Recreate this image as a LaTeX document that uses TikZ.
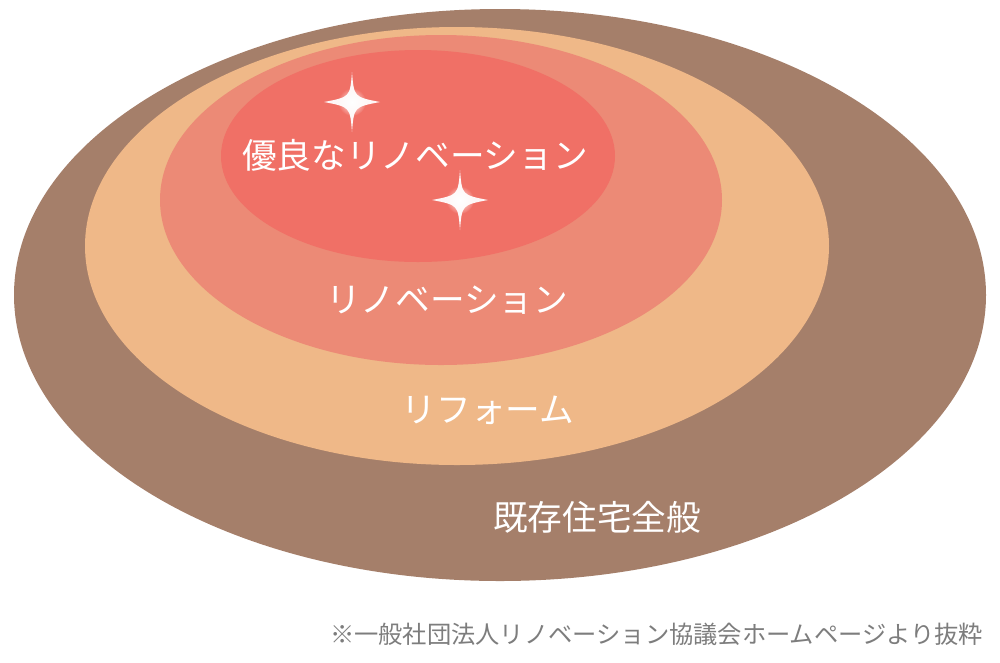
\documentclass[tikz,border=0pt]{standalone}
\usepackage{fontspec}
\newfontfamily\jpfont{Noto Sans CJK JP}
\definecolor{kizon}{RGB}{165,127,106}
\definecolor{reform}{RGB}{239,184,136}
\definecolor{renov}{RGB}{236,138,118}
\definecolor{yuryo}{RGB}{240,112,102}
\definecolor{chu}{RGB}{125,125,125}
\tikzset{every picture/.style={line width=0.75pt}}
\tikzset{
  label/.style={text=white,font=\jpfont\fontsize{26}{30}\selectfont},
  chuki/.style={text=chu,font=\jpfont\fontsize{18.2}{21}\selectfont,anchor=east}
}

\begin{document}
\begin{tikzpicture}[x=0.75pt,y=0.75pt,yscale=-1,xscale=1]
\useasboundingbox (0,0) rectangle (1000,662);

%Shape: Ellipse [kizon]
\fill [kizon] (500,295) ellipse (486 and 286);
%Shape: Ellipse [reform]
\fill [reform] (457,246) ellipse (372 and 219);
%Shape: Ellipse [renov]
\fill [renov] (441,200) ellipse (281 and 165);
%Shape: Ellipse [yuryo]
\fill [yuryo] (418,156) ellipse (197 and 106);

%Sparkles
\foreach \sx/\sy in {352/102, 460/200}{
  \shade [inner color=white, outer color=yuryo] (\sx,\sy) circle (14);
  \fill [white, opacity=0.95] (\sx,\sy-30) .. controls (\sx+2,\sy-5) .. (\sx+28,\sy)
    .. controls (\sx+2,\sy+5) .. (\sx,\sy+30)
    .. controls (\sx-2,\sy+5) .. (\sx-28,\sy)
    .. controls (\sx-2,\sy-5) .. cycle;
}

% Text Node
\node [label] (yuryoTxt) at (415,155) {優良なリノベーション};
% Text Node
\node [label] (renovTxt) at (447,300) {リノベーション};
% Text Node
\node [label] (reformTxt) at (488,410) {リフォーム};
% Text Node
\node [label] (kizonTxt) at (597,517) {既存住宅全般};
% Text Node
\node [chuki] (chukiTxt) at (988,634) {※一般社団法人リノベーション協議会ホームページより抜粋};

\end{tikzpicture}
\end{document}
